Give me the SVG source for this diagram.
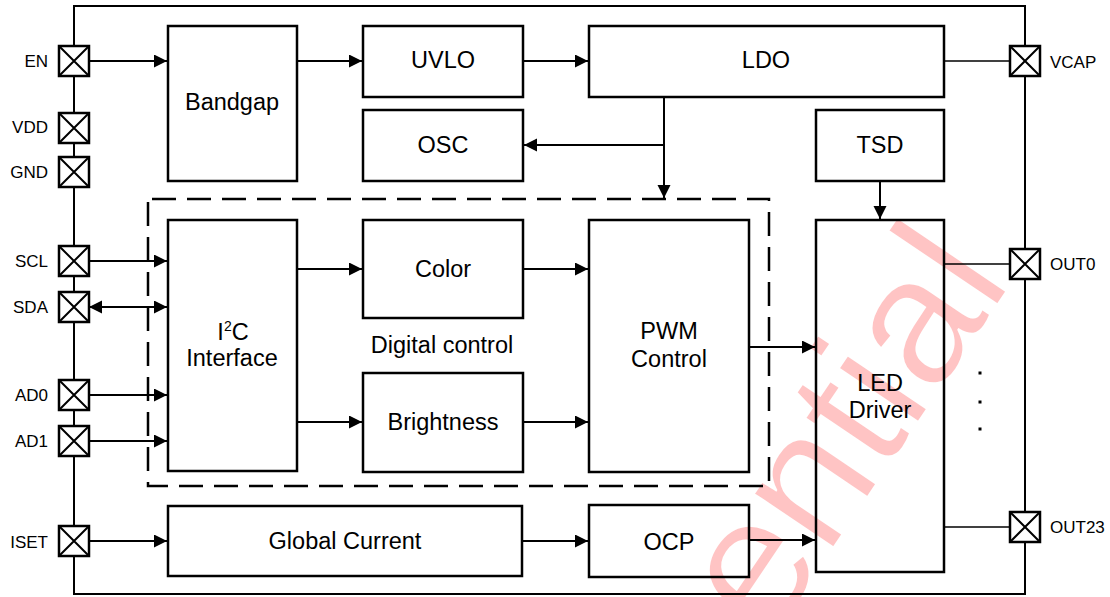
<svg xmlns="http://www.w3.org/2000/svg" width="1110" height="597" viewBox="0 0 1110 597">
<defs>
<marker id="arr" markerUnits="userSpaceOnUse" markerWidth="14" markerHeight="14" refX="13" refY="6.5" orient="auto-start-reverse"><path d="M0,0 L13,6.5 L0,13 z" fill="#000"/></marker>
</defs>
<style>
.blk{fill:none;stroke:#000;stroke-width:2.5}
.pin rect{fill:#fff;stroke:#000;stroke-width:2.5}
.pin path{stroke:#000;stroke-width:2;fill:none}
.lbl{font-family:"Liberation Sans",Arial,sans-serif;font-size:23.5px;text-anchor:middle;fill:#000}
.pl{font-family:"Liberation Sans",Arial,sans-serif;font-size:17px;fill:#000}
.pr{text-anchor:end}
.c{stroke:#000;stroke-width:2;fill:none}
.t{stroke:#000;stroke-width:1.5;fill:none}
.a{marker-end:url(#arr)}
.wm{font-family:"Liberation Sans",Arial,sans-serif;font-size:182px;fill:#ffc4c4;stroke:#fff;stroke-width:2}
</style>
<rect x="0" y="0" width="1110" height="597" fill="#fff"/>
<g id="watermark">
<text class="wm" transform="translate(770,642) rotate(-56)">ential</text>
</g>
<g id="chip-border">
<rect x="74" y="6" width="951" height="588" fill="none" stroke="#000" stroke-width="2"/>
</g>
<g id="connectors">
<path class="c a" d="M89,61 H167"/>
<path class="c a" d="M297,61 H362"/>
<path class="c a" d="M523,61 H588"/>
<path class="t" d="M944,61 H1010"/>
<path class="c a" d="M664,97 V198"/>
<path class="c a" d="M664,145 H524"/>
<path class="c a" d="M880,181 V219"/>
<path class="c a" d="M89,261 H167"/>
<path class="c a" d="M89,307 H167" style="marker-start:url(#arr)"/>
<path class="c a" d="M89,395 H167"/>
<path class="c a" d="M89,441 H167"/>
<path class="c a" d="M89,541 H167"/>
<path class="c a" d="M297,269 H362"/>
<path class="c a" d="M297,422 H362"/>
<path class="c a" d="M523,269 H588"/>
<path class="c a" d="M523,422 H588"/>
<path class="c a" d="M749,347 H815"/>
<path class="c a" d="M522,541 H588"/>
<path class="c a" d="M749,540 H815"/>
<path class="t" d="M944,264 H1010"/>
<path class="t" d="M944,527 H1010"/>
</g>
<g id="digital-control">
<rect x="148" y="199" width="621" height="287" fill="none" stroke="#000" stroke-width="2.5" stroke-dasharray="24 11" stroke-dashoffset="-4"/>
<text class="lbl" x="442" y="353">Digital control</text>
</g>
<g id="bandgap"><rect class="blk" x="168" y="26" width="129" height="155"/><text class="lbl" x="232" y="110">Bandgap</text></g>
<g id="uvlo"><rect class="blk" x="363" y="26" width="160" height="71"/><text class="lbl" x="443" y="68">UVLO</text></g>
<g id="osc"><rect class="blk" x="363" y="110" width="160" height="71"/><text class="lbl" x="443" y="153">OSC</text></g>
<g id="ldo"><rect class="blk" x="589" y="26" width="355" height="71"/><text class="lbl" x="766" y="68">LDO</text></g>
<g id="tsd"><rect class="blk" x="816" y="110" width="128" height="71"/><text class="lbl" x="880" y="153">TSD</text></g>
<g id="i2c"><rect class="blk" x="168" y="220" width="129" height="251"/><text class="lbl" x="233" y="340">I<tspan font-size="14" dy="-9">2</tspan><tspan dy="9">C</tspan></text><text class="lbl" x="232" y="366">Interface</text></g>
<g id="color"><rect class="blk" x="363" y="220" width="160" height="98"/><text class="lbl" x="443" y="277">Color</text></g>
<g id="brightness"><rect class="blk" x="363" y="373" width="160" height="99"/><text class="lbl" x="443" y="430">Brightness</text></g>
<g id="pwm"><rect class="blk" x="589" y="220" width="160" height="252"/><text class="lbl" x="669" y="339">PWM</text><text class="lbl" x="669" y="367">Control</text></g>
<g id="led-driver"><rect class="blk" x="816" y="220" width="128" height="352"/><text class="lbl" x="880" y="391">LED</text><text class="lbl" x="880" y="418">Driver</text></g>
<g id="global-current"><rect class="blk" x="168" y="506" width="354" height="70"/><text class="lbl" x="345" y="549">Global Current</text></g>
<g id="ocp"><rect class="blk" x="589" y="505" width="160" height="72"/><text class="lbl" x="669" y="550">OCP</text></g>
<g id="dots"><rect x="978.5" y="371.5" width="3" height="3"/><rect x="978.5" y="400.5" width="3" height="3"/><rect x="978.5" y="427.5" width="3" height="3"/></g>
<g id="pin-en" class="pin"><rect x="59" y="46" width="30" height="30"/><path d="M59,46 L89,76 M89,46 L59,76"/><text class="pl pr" x="48" y="67">EN</text></g>
<g id="pin-vdd" class="pin"><rect x="59" y="113" width="30" height="30"/><path d="M59,113 L89,143 M89,113 L59,143"/><text class="pl pr" x="48" y="133">VDD</text></g>
<g id="pin-gnd" class="pin"><rect x="59" y="157" width="30" height="30"/><path d="M59,157 L89,187 M89,157 L59,187"/><text class="pl pr" x="48" y="178">GND</text></g>
<g id="pin-scl" class="pin"><rect x="59" y="246" width="30" height="30"/><path d="M59,246 L89,276 M89,246 L59,276"/><text class="pl pr" x="48" y="267">SCL</text></g>
<g id="pin-sda" class="pin"><rect x="59" y="292" width="30" height="30"/><path d="M59,292 L89,322 M89,292 L59,322"/><text class="pl pr" x="48" y="313">SDA</text></g>
<g id="pin-ad0" class="pin"><rect x="59" y="380" width="30" height="30"/><path d="M59,380 L89,410 M89,380 L59,410"/><text class="pl pr" x="48" y="401">AD0</text></g>
<g id="pin-ad1" class="pin"><rect x="59" y="426" width="30" height="30"/><path d="M59,426 L89,456 M89,426 L59,456"/><text class="pl pr" x="48" y="447">AD1</text></g>
<g id="pin-iset" class="pin"><rect x="59" y="526" width="30" height="30"/><path d="M59,526 L89,556 M89,526 L59,556"/><text class="pl pr" x="48" y="548">ISET</text></g>
<g id="pin-vcap" class="pin"><rect x="1010" y="46" width="30" height="30"/><path d="M1010,46 L1040,76 M1040,46 L1010,76"/><text class="pl" x="1050" y="68">VCAP</text></g>
<g id="pin-out0" class="pin"><rect x="1010" y="249" width="30" height="30"/><path d="M1010,249 L1040,279 M1040,249 L1010,279"/><text class="pl" x="1050" y="270">OUT0</text></g>
<g id="pin-out23" class="pin"><rect x="1010" y="512" width="30" height="30"/><path d="M1010,512 L1040,542 M1040,512 L1010,542"/><text class="pl" x="1050" y="533">OUT23</text></g>
</svg>
